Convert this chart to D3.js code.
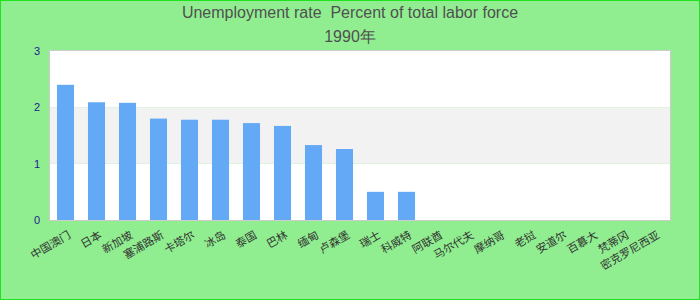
<!DOCTYPE html>
<html>
<head>
<meta charset="utf-8">
<script src="https://cdn.jsdelivr.net/npm/d3@7/dist/d3.min.js"></script>
<style>
  html, body { margin: 0; padding: 0; background: #fff; }
  #container { width: 700px; height: 300px; }
  text { font-family: "Liberation Sans", Arial, sans-serif; }
</style>
</head>
<body>
<div id="container"></div>
<script>
/* CONSTANTS AND GLOBALS */
const width = 700;
const height = 300;
const margin = { top: 51, right: 30, bottom: 80, left: 50 };

/* DATA */
const titleLines = ["Unemployment rate  Percent of total labor force", "1990年"];
const countries = ["中国澳门", "日本", "新加坡", "塞浦路斯", "卡塔尔", "冰岛", "泰国", "巴林", "缅甸", "卢森堡",
                   "瑞士", "科威特", "阿联酋", "马尔代夫", "摩纳哥", "老挝", "安道尔", "百慕大", "梵蒂冈", "密克罗尼西亚"];
const rates = [2.40, 2.09, 2.08, 1.80, 1.78, 1.78, 1.72, 1.67, 1.33, 1.26,
               0.50, 0.50, 0, 0, 0, 0, 0, 0, 0, 0];
const yTicks = [0, 1, 2, 3];

const data = countries.map((c, i) => ({ country: c, rate: rates[i] }));

const svg = d3.select("#container").append("svg")
  .attr("width", width)
  .attr("height", height);

// background + frame
svg.append("rect")
  .attr("x", 0.5).attr("y", 0.5)
  .attr("width", width - 1).attr("height", height - 1)
  .attr("fill", "#90ee90")
  .attr("stroke", "#1ee31e");

/* SCALES */
const xScale = d3.scaleBand()
  .domain(countries)
  .range([margin.left, width - margin.right])
  .paddingInner(0.45)
  .paddingOuter(0.225);

const yScale = d3.scaleLinear()
  .domain([0, 3])
  .range([height - margin.bottom, margin.top]);

// plot area with alternating bands
svg.selectAll("rect.band")
  .data(d3.range(0, 3))
  .join("rect")
  .attr("class", "band")
  .attr("x", margin.left)
  .attr("y", d => yScale(d + 1))
  .attr("width", width - margin.left - margin.right)
  .attr("height", d => yScale(d) - yScale(d + 1))
  .attr("fill", d => d % 2 === 1 ? "#f2f2f2" : "#ffffff");

/* BARS */
svg.selectAll("rect.bar")
  .data(data)
  .join("rect")
  .attr("class", "bar")
  .attr("x", d => xScale(d.country))
  .attr("y", d => yScale(d.rate))
  .attr("width", xScale.bandwidth())
  .attr("height", d => yScale(0) - yScale(d.rate))
  .attr("fill", "#63a9f5");

// frame of the plot
svg.append("rect")
  .attr("x", margin.left - 0.5).attr("y", margin.top - 0.5)
  .attr("width", width - margin.left - margin.right + 1)
  .attr("height", yScale(0) - margin.top + 1)
  .attr("fill", "none")
  .attr("stroke", "#cccccc");

/* AXES */
const yAxis = d3.axisLeft(yScale).tickValues(yTicks).tickFormat(d3.format("d")).tickSize(0).tickPadding(10);
svg.append("g")
  .attr("transform", `translate(${margin.left},0)`)
  .call(yAxis)
  .call(g => g.select(".domain").remove())
  .selectAll("text")
  .attr("fill", "#1c1c8c")
  .style("font-size", "11px");

const xAxis = d3.axisBottom(xScale).tickSize(0).tickPadding(8);
svg.append("g")
  .attr("transform", `translate(0,${yScale(0)})`)
  .call(xAxis)
  .call(g => g.select(".domain").remove())
  .selectAll("text")
  .attr("fill", "#333")
  .style("font-size", "11px")
  .style("font-family", "'Noto Sans CJK SC', sans-serif")
  .attr("text-anchor", "end")
  .attr("dx", "-0.3em")
  .attr("dy", "0.9em")
  .attr("transform", "rotate(-30)");

/* TITLE */
svg.selectAll("text.title")
  .data(titleLines)
  .join("text")
  .attr("class", "title")
  .attr("x", width / 2)
  .attr("y", (d, i) => 18 + i * 24)
  .attr("text-anchor", "middle")
  .attr("fill", "#505050")
  .style("font-size", "16px")
  .style("white-space", "pre")
  .text(d => d);
</script>
</body>
</html>
